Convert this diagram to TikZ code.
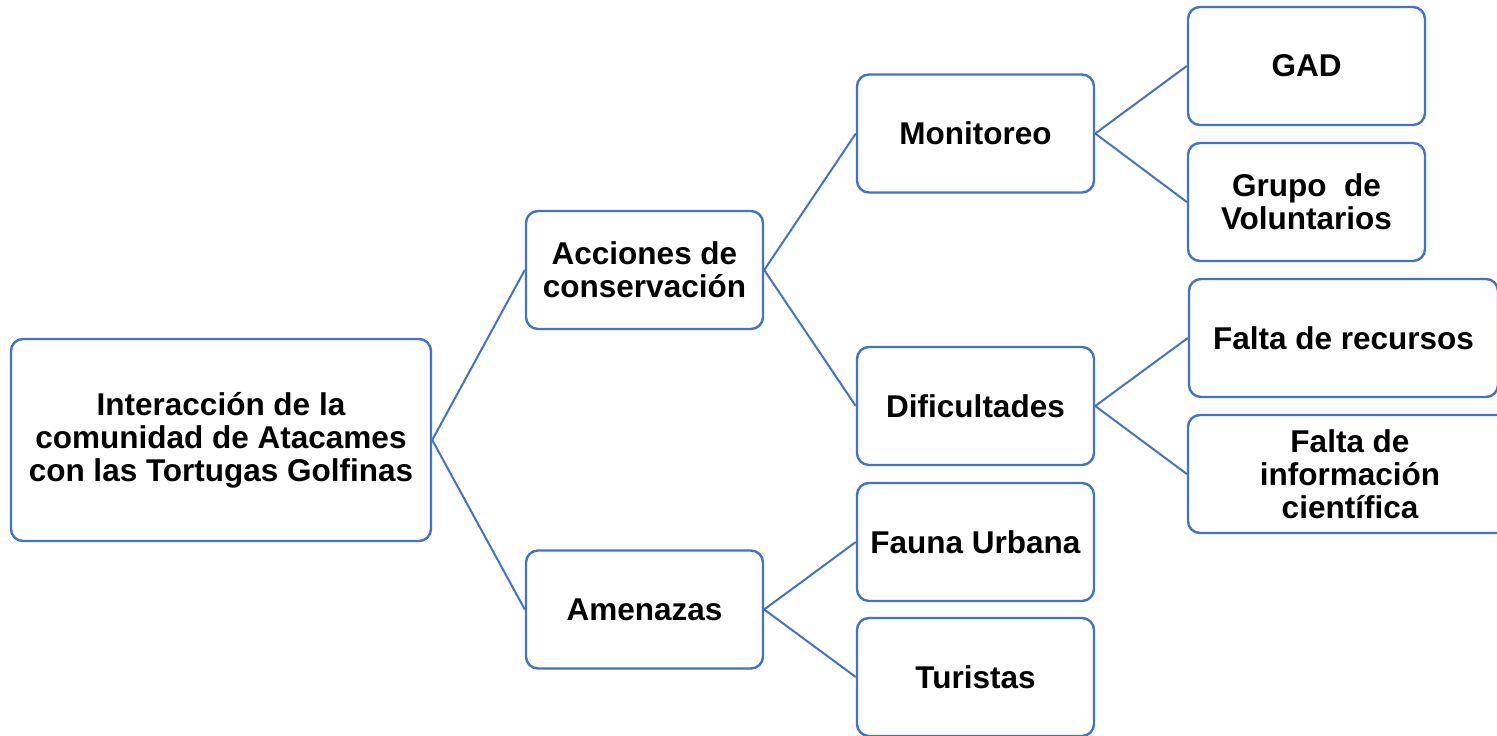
\documentclass[tikz,border=0pt]{standalone}
\usepackage{fontspec}
\setmainfont{Liberation Sans}
\begin{document}
\begin{tikzpicture}[x=1pt,y=-1pt,
  box/.style={draw=lineblue, line width=2.4pt, rounded corners=12pt, fill=white,
    align=center, font=\fontsize{31.5}{33}\selectfont\bfseries, inner sep=0pt},
  sbox/.style={box, minimum width=237pt, minimum height=118pt},
  link/.style={draw=lineblue, line width=2pt}]
\definecolor{lineblue}{HTML}{4472C4}
\useasboundingbox (0,0) rectangle (1497,736);
\begin{scope}
\clip (0,0) rectangle (1497,736);
\node[box, minimum width=420pt, minimum height=202pt] (root) at (221,440) {Interacción de la\\comunidad de Atacames\\con las Tortugas Golfinas};
\node[sbox] (acc) at (644.5,270) {Acciones de\\conservación};
\node[sbox] (ame) at (644.5,609.5) {Amenazas};
\node[sbox] (mon) at (975.5,133.5) {Monitoreo};
\node[sbox] (dif) at (975.5,406) {Dificultades};
\node[sbox] (fau) at (975.5,542) {Fauna Urbana};
\node[sbox] (tur) at (975.5,677) {Turistas};
\node[sbox] (gad) at (1306.5,66) {GAD};
\node[sbox] (gru) at (1306.5,202) {Grupo \ de\\Voluntarios};
\node[sbox, minimum width=309pt] (frec) at (1343.5,338) {Falta de recursos};
\node[sbox, minimum width=324pt] (finf) at (1350,474) {Falta de\\información\\científica};
\path[link] (root.east) -- (acc.west);
\path[link] (root.east) -- (ame.west);
\path[link] (acc.east) -- (mon.west);
\path[link] (acc.east) -- (dif.west);
\path[link] (ame.east) -- (fau.west);
\path[link] (ame.east) -- (tur.west);
\path[link] (mon.east) -- (gad.west);
\path[link] (mon.east) -- (gru.west);
\path[link] (dif.east) -- (frec.west);
\path[link] (dif.east) -- (finf.west);
\end{scope}
\end{tikzpicture}
\end{document}
